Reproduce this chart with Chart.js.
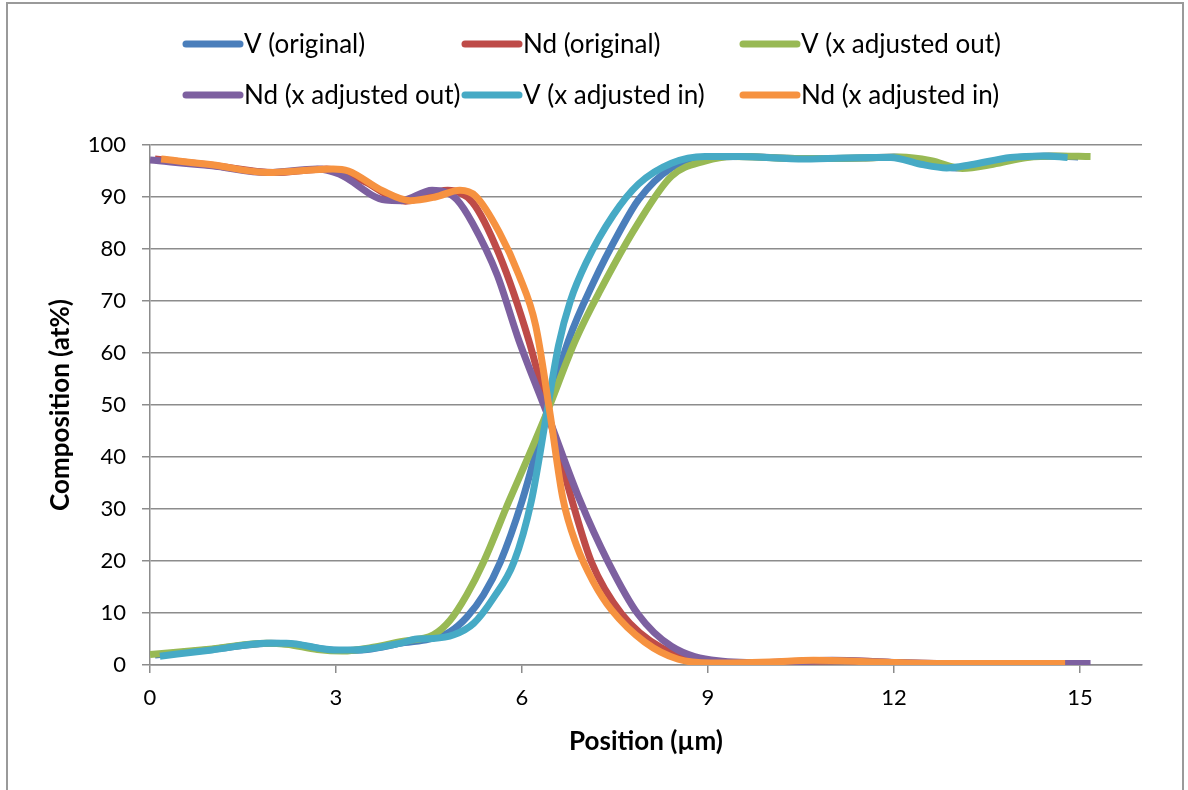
<!DOCTYPE html>
<html>
<head>
<meta charset="utf-8">
<script src="https://cdn.jsdelivr.net/npm/chart.js@4.4.1/dist/chart.umd.min.js"></script>
<style>
  body { margin: 0; background: #fff; }
  canvas { display: block; }
</style>
</head>
<body>
<canvas id="profileChart" width="1188" height="790"></canvas>
<script>
// composition profiles across the V / Nd interface
const vOriginalX = [0.08, 1.0, 1.95, 2.3, 3.05, 3.5, 4.1, 4.5, 4.84, 5.11, 5.38, 5.65, 6.0, 6.4, 6.75, 7.15, 7.58, 7.88, 8.41, 9.0, 9.5, 10.5, 11.5, 12.0, 12.45, 13.0, 13.4, 14.0, 14.5, 14.97];
const vOriginalY = [1.9, 3.0, 4.2, 4.0, 2.8, 3.0, 4.3, 5.0, 6.4, 9.2, 13.5, 19.8, 31.5, 48.5, 62.4, 73.5, 83.5, 89.5, 95.6, 97.7, 97.8, 97.4, 97.5, 97.7, 96.8, 95.6, 96.2, 97.6, 97.9, 97.7];

const ndOriginalX = [0.08, 1.0, 2.0, 2.85, 3.4, 4.12, 4.8, 5.2, 5.63, 6.11, 6.42, 6.81, 7.12, 7.61, 8.25, 8.95, 9.5, 10.5, 11.2, 12.2, 13.2, 14.2, 14.97];
const ndOriginalY = [97.3, 96.1, 94.7, 95.4, 93.3, 89.2, 91.3, 89.0, 79.0, 62.4, 48.5, 31.5, 19.8, 9.8, 3.3, 0.8, 0.3, 0.7, 0.8, 0.4, 0.3, 0.3, 0.3];

const vOutX = [0.0, 1.0, 1.88, 2.2, 2.7, 3.1, 3.6, 4.04, 4.57, 4.84, 5.11, 5.38, 5.79, 6.1, 6.4, 6.86, 7.26, 7.85, 8.41, 8.95, 9.4, 10.5, 11.5, 12.1, 12.6, 13.1, 13.6, 14.15, 14.6, 15.17];
const vOutY = [2.0, 3.1, 4.2, 4.0, 3.0, 2.7, 3.4, 4.5, 5.8, 8.6, 13.5, 19.8, 31.5, 40.0, 48.5, 62.4, 72.0, 84.5, 94.0, 96.9, 97.8, 97.4, 97.5, 97.7, 97.0, 95.5, 96.3, 97.6, 97.9, 97.8];

const ndOutX = [0.0, 1.0, 1.9, 2.7, 3.05, 3.8, 4.05, 4.55, 4.75, 4.95, 5.2, 5.6, 5.95, 6.4, 6.94, 7.39, 7.87, 8.41, 9.16, 10.0, 11.0, 12.0, 13.0, 14.0, 15.17];
const ndOutY = [97.1, 96.0, 94.7, 95.4, 94.4, 89.4, 89.3, 91.3, 91.0, 89.5, 85.0, 75.0, 62.4, 48.5, 31.5, 19.8, 9.8, 3.6, 0.8, 0.4, 0.9, 0.5, 0.3, 0.3, 0.3];

const vInX = [0.16, 1.0, 1.88, 2.2, 2.96, 3.28, 4.04, 4.3, 4.57, 4.9, 5.22, 5.54, 5.87, 6.15, 6.4, 6.59, 6.78, 7.04, 7.47, 7.88, 8.41, 8.95, 9.49, 10.56, 11.63, 11.95, 12.43, 12.85, 13.24, 13.88, 14.42, 14.8];
const vInY = [1.7, 2.9, 4.2, 4.2, 2.9, 2.9, 4.2, 5.0, 5.1, 5.8, 8.0, 12.9, 19.8, 31.5, 48.5, 61.5, 70.0, 77.5, 86.5, 92.5, 96.5, 97.8, 97.8, 97.3, 97.6, 97.6, 96.3, 95.6, 96.2, 97.6, 97.9, 97.6];

const ndInX = [0.18, 1.0, 1.9, 2.95, 3.2, 3.75, 4.2, 4.6, 5.0, 5.25, 5.63, 5.95, 6.22, 6.45, 6.66, 6.88, 7.15, 7.45, 7.98, 8.52, 9.05, 10.0, 10.7, 11.7, 12.7, 13.7, 14.76];
const ndInY = [97.3, 96.2, 94.7, 95.4, 95.0, 91.2, 89.3, 90.0, 91.3, 90.2, 83.3, 75.0, 65.3, 48.5, 32.0, 23.0, 16.0, 10.5, 4.4, 1.1, 0.4, 0.6, 0.9, 0.6, 0.3, 0.3, 0.3];

const seriesNames = ['V (original)', 'Nd (original)', 'V (x adjusted out)', 'Nd (x adjusted out)', 'V (x adjusted in)', 'Nd (x adjusted in)'];
const positionTicks = [0, 3, 6, 9, 12, 15];
const compositionTicks = [0, 10, 20, 30, 40, 50, 60, 70, 80, 90, 100];

const colors = ['#4a7ebb', '#be4b48', '#98b954', '#7d60a0', '#46aac5', '#f69240'];
const xs = [vOriginalX, ndOriginalX, vOutX, ndOutX, vInX, ndInX];
const ys = [vOriginalY, ndOriginalY, vOutY, ndOutY, vInY, ndInY];

const FONT = 'Lato, sans-serif';
const gridGray = '#8c8c8c';

function toPoints(xArr, yArr) {
    return xArr.map((x, i) => ({ x: x, y: yArr[i] }));
}

const datasets = seriesNames.map((name, i) => ({
    label: name,
    data: toPoints(xs[i], ys[i]),
    borderColor: colors[i],
    backgroundColor: colors[i],
    borderWidth: 7,
    showLine: true,
    cubicInterpolationMode: 'monotone',
    pointRadius: 0,
    order: seriesNames.length - i   // later series sit on top
}));

// two-row legend with fixed columns
const legendColumns = [183, 462, 740];
const legendRows = [44, 95];
const gridLegend = {
    id: 'gridLegend',
    afterDraw(chart) {
        const ctx = chart.ctx;
        ctx.save();
        ctx.font = '26px ' + FONT;
        ctx.textBaseline = 'middle';
        chart.data.datasets.forEach((ds, i) => {
            const x = legendColumns[i % 3];
            const y = legendRows[Math.floor(i / 3)];
            ctx.strokeStyle = ds.borderColor;
            ctx.lineWidth = 7;
            ctx.lineCap = 'round';
            ctx.beginPath();
            ctx.moveTo(x + 3, y);
            ctx.lineTo(x + 57, y);
            ctx.stroke();
            ctx.fillStyle = '#000';
            ctx.fillText(ds.label, x + 61, y + 1);
        });
        ctx.restore();
    }
};

// white page with the outer chart frame
const frame = {
    id: 'frame',
    beforeDraw(chart) {
        const ctx = chart.ctx;
        ctx.save();
        ctx.fillStyle = '#fff';
        ctx.fillRect(0, 0, chart.width, chart.height);
        ctx.strokeStyle = '#9a9a9a';
        ctx.lineWidth = 2;
        ctx.strokeRect(7, 3, 1176, 820);
        ctx.restore();
    }
};

new Chart(document.getElementById('profileChart'), {
    type: 'scatter',
    data: { datasets: datasets },
    plugins: [frame, gridLegend],
    options: {
        responsive: false,
        animation: false,
        devicePixelRatio: 1,
        layout: { padding: { left: 30, right: 46, top: 145, bottom: 20 } },
        plugins: {
            legend: { display: false },
            tooltip: { enabled: false }
        },
        scales: {
            x: {
                type: 'linear',
                min: 0,
                max: 16,
                afterBuildTicks: (axis) => { axis.ticks = positionTicks.map(v => ({ value: v })); },
                afterFit: (scale) => { scale.height = 105; },
                grid: { drawOnChartArea: false, drawTicks: true, tickLength: 8, color: gridGray, lineWidth: 1.5 },
                border: { color: gridGray, width: 1.5 },
                ticks: { color: '#000', font: { family: FONT, size: 22 }, padding: 12, maxRotation: 0 },
                title: { display: true, text: 'Position (µm)', color: '#000', font: { family: FONT, size: 26, weight: 'bold' }, padding: { top: 0, bottom: 13 } }
            },
            y: {
                min: 0,
                max: 100,
                afterBuildTicks: (axis) => { axis.ticks = compositionTicks.map(v => ({ value: v })); },
                afterFit: (scale) => { scale.width = 120; },
                grid: { drawTicks: true, tickLength: 8, color: gridGray, lineWidth: 1.5 },
                border: { color: gridGray, width: 1.5 },
                ticks: { color: '#000', font: { family: FONT, size: 22 }, padding: 16 },
                title: { display: true, text: 'Composition (at%)', color: '#000', font: { family: FONT, size: 26, weight: 'bold' }, padding: { top: 15, bottom: 0 } }
            }
        }
    }
});
</script>
</body>
</html>
